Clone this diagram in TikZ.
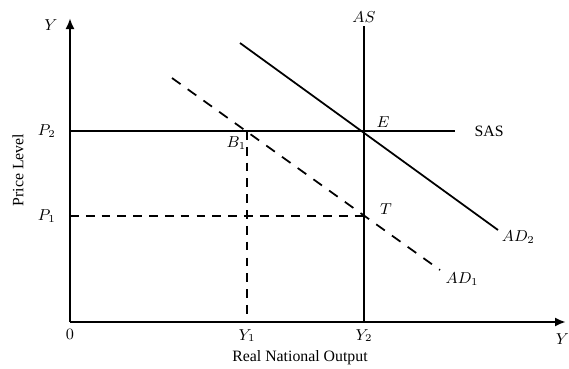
\documentclass[tikz,border=0pt]{standalone}
\usepackage{fontspec}
\setmainfont{Liberation Serif}
\usetikzlibrary{positioning, arrows.meta}

\begin{document}
\begin{tikzpicture}[
    x=0.02cm, y=-0.02cm,
    axis/.style={
        -{Latex[length=2.2mm,width=1.8mm]},
        line width=1.6pt
    },
    curve/.style={
        line width=1pt
    },
    guide/.style={
        line width=1.1pt,
        dash pattern=on 5pt off 4pt
    },
    lbl/.style={
        font=\small,
        inner sep=1pt
    }
]
\useasboundingbox (0,0) rectangle (569,369);

\coordinate (origin) at (70,322);
\coordinate (ytop) at (70,18);
\coordinate (xend) at (566,322);
\coordinate (p2) at (70,131);
\coordinate (sasend) at (455,131);
\coordinate (astop) at (364,26);
\coordinate (y2) at (364,322);
\coordinate (e) at (364,131);
\coordinate (ad2a) at (240,43);
\coordinate (ad2b) at (498,230);
\coordinate (ad1a) at (172,78);
\coordinate (ad1b) at (440,270);
\coordinate (b1) at (247,131);
\coordinate (y1) at (247,322);
\coordinate (p1) at (70,216);
\coordinate (t) at (364,216);

% axes
\draw[axis] (origin) -- (ytop);
\draw[axis] (origin) -- (xend);

% supply curves
\draw[line width=1.4pt] (p2) -- (b1);
\draw[curve] (b1) -- (sasend);
\draw[line width=1.4pt] (astop) -- (y2);

% demand curves
\draw[curve] (ad2a) -- (ad2b);
\draw[curve, dash pattern=on 6pt off 5pt] (ad1a) -- (ad1b);

% guides
\draw[guide] (p1) -- (t);
\draw[guide] (b1) -- (y1);

% labels
\node[lbl, left=6pt of ytop, yshift=-4pt] (ylab) {$Y$};
\node[lbl, left=7pt of p2] (p2lab) {$P_2$};
\node[lbl, left=7pt of p1] (p1lab) {$P_1$};
\node[lbl, below=3pt of origin] (olab) {$0$};
\node[lbl, below=3pt of y1] (y1lab) {$Y_1$};
\node[lbl, below=3pt of y2] (y2lab) {$Y_2$};
\node[lbl, anchor=north east] (xlab) at (571,332) {$Y$};
\node[lbl, above=1pt of astop] (aslab) {$AS$};
\node[lbl, right=10pt of sasend] (saslab) {SAS};
\node[lbl, above right=1pt and 6pt of e] (elab) {$E$};
\node[lbl, below=2pt of b1, xshift=-6pt] (b1lab) {$B_1$};
\node[lbl, right=8pt of t, yshift=4pt] (tlab) {$T$};
\node[lbl, right=1pt of ad2b, yshift=-4pt] (ad2lab) {$AD_2$};
\node[lbl, right=2pt of ad1b, yshift=-5pt] (ad1lab) {$AD_1$};
\node[lbl, rotate=90] (pricelab) at (18,170) {Price Level};
\node[lbl] (outlab) at (300,358) {Real National Output};
\end{tikzpicture}
\end{document}
